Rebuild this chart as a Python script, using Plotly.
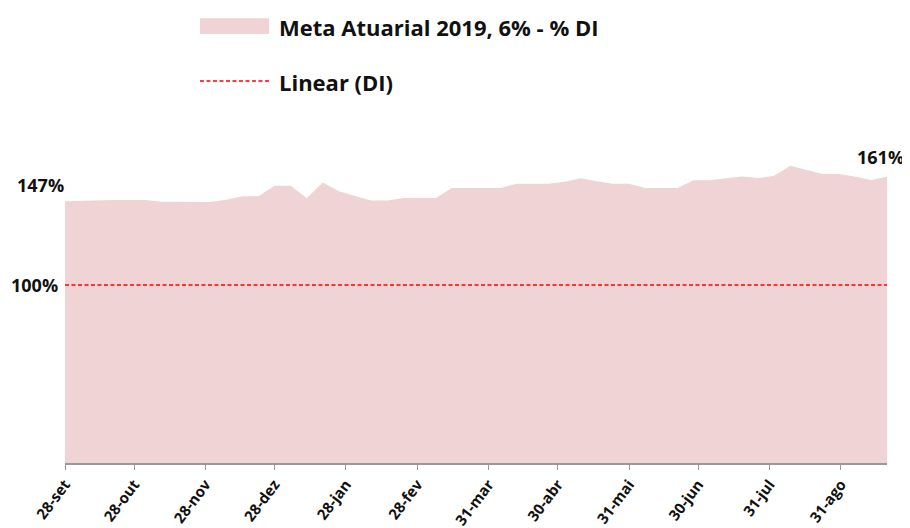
import plotly.graph_objects as go
import pandas as pd

# Weekly dates (Fridays) from 28-set-2018 to 20-set-2019
dates = pd.date_range("2018-09-28", periods=52, freq="7D")
meta_pct = [
    147.0, 147.3, 147.8, 147.8, 147.8, 147.7, 146.7, 146.6, 146.6, 146.6,
    147.9, 149.8, 149.8, 155.8, 155.8, 148.9, 157.6, 152.6, 150.0, 147.5,
    147.5, 148.9, 148.9, 148.9, 154.5, 154.5, 154.5, 154.5, 156.9, 156.9,
    156.9, 158.0, 160.0, 158.3, 156.9, 156.9, 154.5, 154.5, 154.5, 158.8,
    158.9, 160.0, 161.0, 160.1, 161.4, 167.0, 164.8, 162.4, 162.4, 161.0,
    159.0, 160.8,
]
di_level = 100
tick_dates = ["2018-09-28", "2018-10-28", "2018-11-28", "2018-12-28", "2019-01-28",
              "2019-02-28", "2019-03-31", "2019-04-30", "2019-05-31", "2019-06-30",
              "2019-07-31", "2019-08-31"]
tick_labels = ["28-set", "28-out", "28-nov", "28-dez", "28-jan", "28-fev",
               "31-mar", "30-abr", "31-mai", "30-jun", "31-jul", "31-ago"]
series_names = ["Meta Atuarial 2019, 6% - % DI", "Linear (DI)"]

FONT = "Open Sans"
PINK = "rgb(240,212,213)"
RED = "#FF0000"

fig = go.Figure()
fig.add_trace(go.Scatter(
    x=dates, y=meta_pct, mode="lines", fill="tozeroy",
    line=dict(width=0, color=PINK), fillcolor=PINK,
    name=series_names[0], showlegend=False,
))
fig.add_trace(go.Scatter(
    x=[dates[0], dates[-1]], y=[di_level, di_level], mode="lines",
    line=dict(color=RED, width=1.4, dash="4px,2.5px"),
    name=series_names[1], showlegend=False,
))

# manual legend (Excel-style wide swatches)
fig.add_shape(type="rect", xref="paper", yref="paper",
              x0=0.1642, x1=0.2482, y0=1.2051, y1=1.2492,
              fillcolor=PINK, line=dict(width=0), layer="above")
fig.add_shape(type="line", xref="paper", yref="paper",
              x0=0.1642, x1=0.2482, y0=1.0730, y1=1.0730,
              line=dict(color=RED, width=1.4, dash="4px,2.5px"))
fig.add_annotation(xref="paper", yref="paper", x=0.2579, y=1.2256,
                   text="<b>%s</b>" % series_names[0], xanchor="left", yanchor="middle",
                   showarrow=False, font=dict(size=22, family=FONT, color="#111"))
fig.add_annotation(xref="paper", yref="paper", x=0.2579, y=1.0702,
                   text="<b>%s</b>" % series_names[1], xanchor="left", yanchor="middle",
                   showarrow=False, font=dict(size=22, family=FONT, color="#111"))

# value labels
fig.add_annotation(x=dates[0], y=meta_pct[0], text="<b>%d%%</b>" % round(meta_pct[0]),
                   xanchor="right", yanchor="bottom", showarrow=False, xshift=1, yshift=2,
                   font=dict(size=18, family=FONT, color="#111"))
fig.add_annotation(x=dates[-1], y=meta_pct[-1], text="<b>%d%%</b>" % round(meta_pct[-1]),
                   xanchor="right", yanchor="bottom", showarrow=False, xshift=19, yshift=6,
                   font=dict(size=18, family=FONT, color="#111"))
fig.add_annotation(x=dates[0], y=di_level, text="<b>%d%%</b>" % di_level,
                   xanchor="right", yanchor="middle", showarrow=False, xshift=-5,
                   font=dict(size=18, family=FONT, color="#111"))

# page body has an 8px margin, so the figure is sized to fit the 910x528 window
fig.update_layout(
    width=902, height=520,
    margin=dict(l=57, r=23, t=99, b=65),
    paper_bgcolor="white", plot_bgcolor="white",
    font=dict(family=FONT, color="#111"),
    showlegend=False,
    xaxis=dict(type="date", range=[dates[0], dates[-1]], automargin=False,
               tickvals=tick_dates, ticktext=["<b>%s</b>" % t for t in tick_labels],
               tickangle=-53, tickfont=dict(size=15, family=FONT, color="#111"),
               showline=True, linecolor="#999", linewidth=1.5,
               ticks="outside", ticklen=5, tickcolor="#999",
               showgrid=False, zeroline=False),
    yaxis=dict(range=[0, 200], showticklabels=False, showgrid=False, automargin=False,
               zeroline=False, showline=False),
)

fig.write_html("out.html")
